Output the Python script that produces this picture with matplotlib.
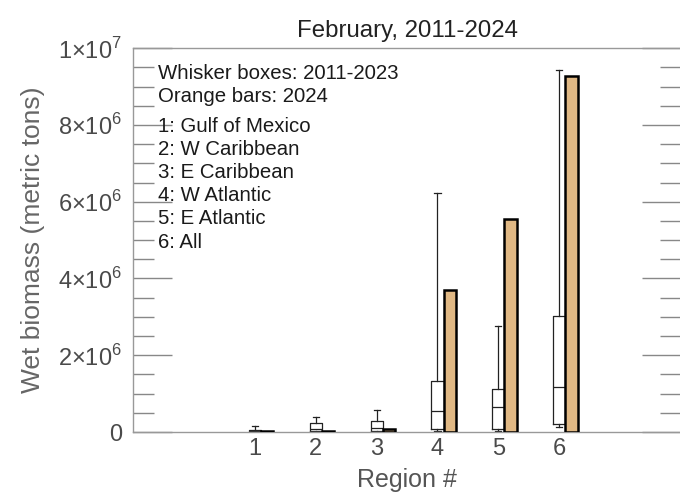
import numpy as np
import matplotlib.pyplot as plt
from matplotlib.ticker import MultipleLocator, FixedLocator

plt.rcParams['font.family'] = ['Liberation Sans', 'DejaVu Sans']
plt.rcParams['mathtext.fontset'] = 'custom'
plt.rcParams['mathtext.rm'] = 'Liberation Sans'

# Region numbers and 2011-2023 box statistics (metric tons)
regions = np.array([1, 2, 3, 4, 5, 6])
whisk_lo = [0.005e6, 0.01e6, 0.01e6, 0.02e6, 0.03e6, 0.12e6]
q1 = [0.01e6, 0.02e6, 0.03e6, 0.07e6, 0.07e6, 0.22e6]
median = [0.03e6, 0.08e6, 0.10e6, 0.55e6, 0.66e6, 1.18e6]
q3 = [0.06e6, 0.23e6, 0.29e6, 1.34e6, 1.11e6, 3.02e6]
whisk_hi = [0.16e6, 0.40e6, 0.57e6, 6.22e6, 2.76e6, 9.43e6]

# 2024 values (orange bars)
bar_2024 = [0.03e6, 0.02e6, 0.08e6, 3.70e6, 5.55e6, 9.27e6]

y_ticks = [0, 2e6, 4e6, 6e6, 8e6, 1e7]
y_labels = ['0', r'2$\times$10$^6$', r'4$\times$10$^6$', r'6$\times$10$^6$',
            r'8$\times$10$^6$', r'1$\times$10$^7$']

legend_lines = ['1: Gulf of Mexico', '2: W Caribbean', '3: E Caribbean',
                '4: W Atlantic', '5: E Atlantic', '6: All']

fig = plt.figure(figsize=(6.8, 4.94), dpi=100)
ax = fig.add_axes([0.1956, 0.1255, 0.806, 0.777])

stats = []
for i in range(len(regions)):
    stats.append({'whislo': whisk_lo[i], 'q1': q1[i], 'med': median[i],
                  'q3': q3[i], 'whishi': whisk_hi[i], 'fliers': []})

line_style = dict(color='#222222', linewidth=0.9)
ax.bxp(stats, positions=regions, widths=0.2, showfliers=False,
       boxprops=line_style, whiskerprops=line_style, capprops=line_style,
       medianprops=line_style, manage_ticks=False)

ax.bar(regions + 0.2, bar_2024, width=0.2, color='#E0B884',
       edgecolor='black', linewidth=1.8, zorder=3)

ax.set_xlim(-1, 8)
ax.set_ylim(0, 1e7)

ax.xaxis.set_major_locator(FixedLocator(regions))
ax.set_xticklabels([str(r) for r in regions])
ax.tick_params(axis='x', length=0, labelsize=17, colors='#4a4a4a', pad=4)

ax.set_yticks(y_ticks)
ax.set_yticklabels(y_labels)
ax.yaxis.set_minor_locator(MultipleLocator(0.5e6))
ax.tick_params(axis='y', which='major', direction='in', length=28, width=1,
               color='#888888', labelsize=17, labelcolor='#4a4a4a',
               right=True, pad=8)
ax.tick_params(axis='y', which='minor', direction='in', length=15, width=1,
               color='#888888', right=True)

for s in ax.spines.values():
    s.set_color('#999999')
    s.set_linewidth(1)

ax.set_title('February, 2011-2024', fontsize=17.3, color='#222222', pad=8)
ax.set_xlabel('Region #', fontsize=18, color='#555555', labelpad=6)
ax.set_ylabel('Wet biomass (metric tons)', fontsize=19, color='#666666',
              labelpad=9)

fs = 14.7
ax.text(0.045, 0.935, 'Whisker boxes: 2011-2023', transform=ax.transAxes,
        fontsize=fs, color='#1a1a1a', va='center')
ax.text(0.045, 0.874, 'Orange bars: 2024', transform=ax.transAxes,
        fontsize=fs, color='#1a1a1a', va='center')
for k, line in enumerate(legend_lines):
    ax.text(0.045, 0.795 - k * 0.06, line, transform=ax.transAxes,
            fontsize=fs, color='#1a1a1a', va='center')

fig.savefig('out.png', dpi=100)
